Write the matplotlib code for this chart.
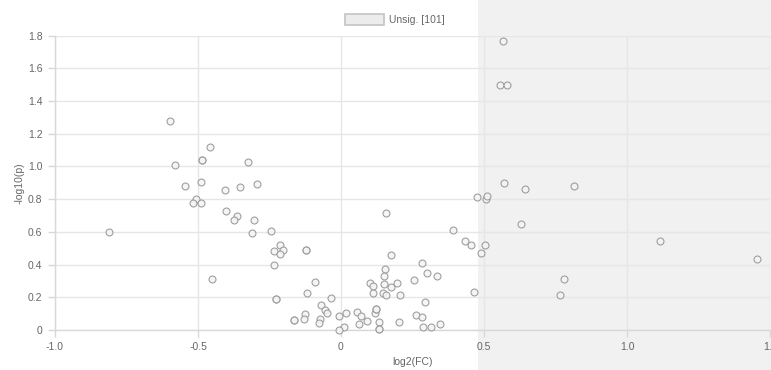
import matplotlib
matplotlib.use("Agg")
import matplotlib.pyplot as plt
from matplotlib.patches import Rectangle
from matplotlib.transforms import blended_transform_factory
from matplotlib.ticker import FuncFormatter

plt.rcParams['font.family'] = ['Liberation Sans', 'DejaVu Sans']

# log2 fold change values
log2fc = [
    -0.598, -0.458, -0.485, -0.485, -0.580, -0.326, -0.491, -0.544, -0.407, -0.354,
    -0.293, -0.507, -0.519, -0.488, -0.401, -0.364, -0.373, -0.303, -0.812, -0.310,
    -0.246, -0.213, -0.234, -0.202, -0.213, -0.123, -0.123, -0.233, -0.451, -0.118,
    -0.228, -0.228, -0.126, -0.163, -0.163, -0.128,
    -0.090, -0.034, -0.069, -0.057, -0.050, -0.073, -0.076, -0.008, 0.017, 0.010,
    -0.006, 0.057, 0.069, 0.064, 0.090, 0.118, 0.124, 0.124, 0.132, 0.132,
    0.132, 0.101, 0.113, 0.113, 0.146, 0.157, 0.151, 0.149, 0.155, 0.176,
    0.197, 0.207, 0.174, 0.158, 0.204, 0.256, 0.282, 0.301, 0.336, 0.295,
    0.261, 0.282, 0.287, 0.316, 0.347, 0.392, 0.432, 0.456, 0.466, 0.477,
    0.506, 0.512, 0.505, 0.488,
    0.565, 0.555, 0.580, 0.570, 0.644, 0.815, 0.630, 0.779, 0.765, 1.115, 1.453,
]
# -log10(p) values
neglog10p = [
    1.280, 1.121, 1.036, 1.036, 1.007, 1.028, 0.907, 0.879, 0.856, 0.877,
    0.891, 0.801, 0.777, 0.777, 0.728, 0.699, 0.673, 0.671, 0.597, 0.593,
    0.607, 0.518, 0.483, 0.487, 0.465, 0.487, 0.487, 0.396, 0.314, 0.224,
    0.188, 0.188, 0.096, 0.059, 0.059, 0.065,
    0.294, 0.194, 0.151, 0.122, 0.102, 0.065, 0.045, 0.086, 0.106, 0.018,
    0.000, 0.112, 0.086, 0.035, 0.053, 0.106, 0.128, 0.128, 0.049, 0.004,
    0.004, 0.289, 0.271, 0.226, 0.226, 0.212, 0.283, 0.330, 0.371, 0.263,
    0.287, 0.216, 0.459, 0.714, 0.049, 0.304, 0.410, 0.347, 0.330, 0.171,
    0.094, 0.078, 0.017, 0.017, 0.037, 0.612, 0.542, 0.522, 0.232, 0.813,
    0.801, 0.820, 0.520, 0.469,
    1.769, 1.497, 1.498, 0.897, 0.864, 0.883, 0.648, 0.310, 0.214, 0.544, 0.434,
]

x_ticks = [-1.0, -0.5, 0.0, 0.5, 1.0, 1.5]
y_ticks = [0.0, 0.2, 0.4, 0.6, 0.8, 1.0, 1.2, 1.4, 1.6, 1.8]
shade_start = 0.479
series_label = "Unsig."

W, H = 771, 370
fig = plt.figure(figsize=(W / 100, H / 100), dpi=100)
ax = fig.add_axes([55 / W, 1 - 330 / H, 715 / W, 294.5 / H])
ax.patch.set_visible(False)
ax.set_xlim(-1.0, 1.5)
ax.set_ylim(0, 1.8)

# shaded region spanning full figure height
trans = blended_transform_factory(ax.transData, fig.transFigure)
ax.add_patch(Rectangle((shade_start, 0), 2.0, 1, transform=trans, clip_on=False,
                       facecolor='#f1f1f1', edgecolor='none', zorder=-5))

ax.set_xticks(x_ticks)
ax.set_yticks(y_ticks)
fmt = FuncFormatter(lambda v, p: '0' if abs(v) < 1e-9 else f'{v:.1f}')
ax.xaxis.set_major_formatter(fmt)
ax.yaxis.set_major_formatter(fmt)
ax.grid(True, color='#e6e6e6', linewidth=1, zorder=0)
ax.set_axisbelow(True)
for s in ['top', 'right']:
    ax.spines[s].set_visible(False)
for s in ['left', 'bottom']:
    ax.spines[s].set_color('#d8d8d8')
    ax.spines[s].set_linewidth(1)
ax.tick_params(axis='both', colors='#d8d8d8', labelcolor='#666666', labelsize=7.5,
               length=5, width=1, pad=4)

ax.scatter(log2fc, neglog10p, s=25, facecolors='#f4f4f4', edgecolors='#969696',
           linewidths=0.8, zorder=3, clip_on=False, alpha=0.9)

ax.set_xlabel('log2(FC)', fontsize=7.5, color='#666666', labelpad=3.5)
ax.set_ylabel('-log10(p)', fontsize=7.5, color='#666666', labelpad=2.5)

# legend
fig.patches.append(Rectangle((345 / W, 1 - 25 / H), 39 / W, 11 / H, transform=fig.transFigure,
                             facecolor='#ececec', edgecolor='#c4c4c4', linewidth=1.2))
fig.text(389 / W, 1 - 20 / H, f'{series_label} [{len(log2fc)}]', fontsize=7.5,
         color='#666666', va='center', ha='left')

fig.savefig('out.png', dpi=100)
